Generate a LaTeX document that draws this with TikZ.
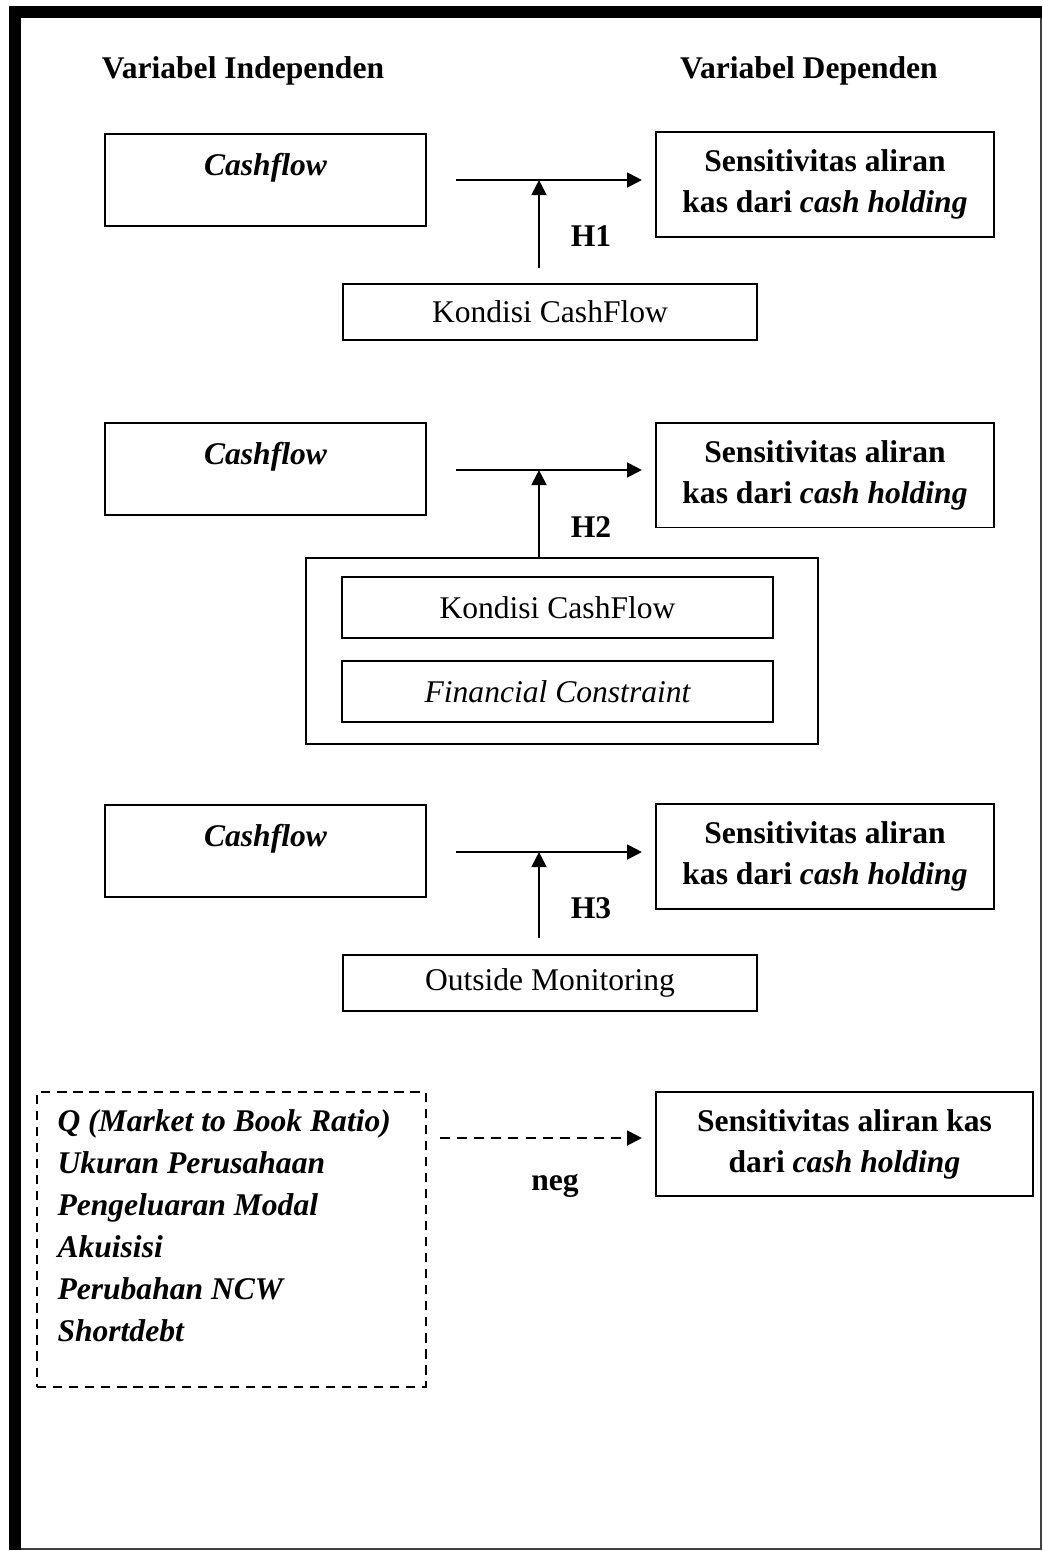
\documentclass[tikz,border=0pt]{standalone}
\usepackage{fontspec}
\setmainfont{Liberation Serif}
\usetikzlibrary{arrows.meta}

\begin{document}
\begin{tikzpicture}[x=0.38pt,y=-0.38pt,>={Triangle[length=5.7pt,width=5.6pt]},
  font=\fontsize{12}{15.6}\selectfont,
  varbox/.style={draw,line width=0.75pt,inner sep=0pt},
  cfbox/.style={varbox,anchor=north west,minimum width=122pt,text height=15.6pt,
    text depth=19.2pt,font=\fontsize{12}{15.6}\selectfont\bfseries\itshape},
  depbox/.style={varbox,minimum width=128.4pt,minimum height=39.9pt,align=center,
    font=\fontsize{12}{15.6}\selectfont\bfseries},
  modbox/.style={varbox,minimum width=157.3pt,minimum height=21.3pt},
  subbox/.style={varbox,minimum width=163.8pt,minimum height=23.2pt},
  hlabel/.style={font=\fontsize{12}{15.6}\selectfont\bfseries},
  arr/.style={->,line width=1pt},
  dasharr/.style={->,line width=1pt,dash pattern=on 3.8pt off 2.7pt}]
  \useasboundingbox (0,0) rectangle (1043,1551);
  % frame
  \fill (9,6) rectangle (1042,18);
  \fill (9,6) rectangle (21,1550);
  \draw[line width=0.6pt,black!75] (1041,18) -- (1041,1549) -- (21,1549);
  % headings
  \node[hlabel,anchor=base] (indep) at (243,78) {Variabel Independen};
  \node[hlabel,anchor=base] (dep) at (809,78) {Variabel Dependen};

  % H1
  \node[cfbox] (cf1) at (104,133) {Cashflow};
  \node[depbox] (sens1) at (825,184.5) {Sensitivitas aliran\\kas dari \textit{cash holding}};
  \node[modbox] (kc1) at (550,312) {Kondisi CashFlow};
  \coordinate (s1) at (456,180);
  \coordinate (e1) at (642,180);
  \coordinate (j1) at (539,180);
  \coordinate (b1) at (539,268);
  \draw[arr] (s1) -- (e1);
  \draw[arr] (b1) -- (j1);
  \node[hlabel] (h1) at (591,236) {H1};

  % H2
  \node[cfbox] (cf2) at (104,422) {Cashflow};
  \node[depbox] (sens2) at (825,475) {Sensitivitas aliran\\kas dari \textit{cash holding}};
  \node[varbox,minimum width=194.6pt,minimum height=70.7pt] (grp2) at (562,651) {};
  \node[subbox] (kc2) at (557.5,607.5) {Kondisi CashFlow};
  \node[subbox,font=\fontsize{12}{15.6}\selectfont\itshape] (fc2) at (557.5,691.5) {Financial Constraint};
  \coordinate (s2) at (456,470);
  \coordinate (e2) at (642,470);
  \coordinate (j2) at (539,470);
  \draw[arr] (s2) -- (e2);
  \draw[arr] (j2 |- grp2.north) -- (j2);
  \node[hlabel] (h2) at (591,527) {H2};

  % H3
  \node[cfbox] (cf3) at (104,804) {Cashflow};
  \node[depbox] (sens3) at (825,856) {Sensitivitas aliran\\kas dari \textit{cash holding}};
  \node[modbox] (om3) at (550,983) {Outside Monitoring};
  \coordinate (s3) at (456,852);
  \coordinate (e3) at (642,852);
  \coordinate (j3) at (539,852);
  \coordinate (b3) at (539,938);
  \draw[arr] (s3) -- (e3);
  \draw[arr] (b3) -- (j3);
  \node[hlabel] (h3) at (591,908) {H3};

  % control variables
  \node[varbox,dash pattern=on 3.5pt off 2.6pt,minimum width=147.8pt,minimum height=112.1pt] (ctrl) at (231.5,1239.5) {};
  \node[anchor=north west,align=left,inner sep=0pt,font=\fontsize{12}{16}\selectfont\bfseries\itshape] (ctrltxt) at (57,1109)
    {Q (Market to Book Ratio)\\Ukuran Perusahaan\\Pengeluaran Modal\\Akuisisi\\Perubahan NCW\\Shortdebt};
  \node[depbox,minimum width=143.3pt,minimum height=39.5pt] (sens4) at (844.5,1144) {Sensitivitas aliran kas\\dari \textit{cash holding}};
  \coordinate (s4) at (440,1138);
  \coordinate (e4) at (642,1138);
  \draw[dasharr] (s4) -- (e4);
  \node[hlabel,anchor=base] (neg) at (555,1190) {neg};
\end{tikzpicture}
\end{document}
